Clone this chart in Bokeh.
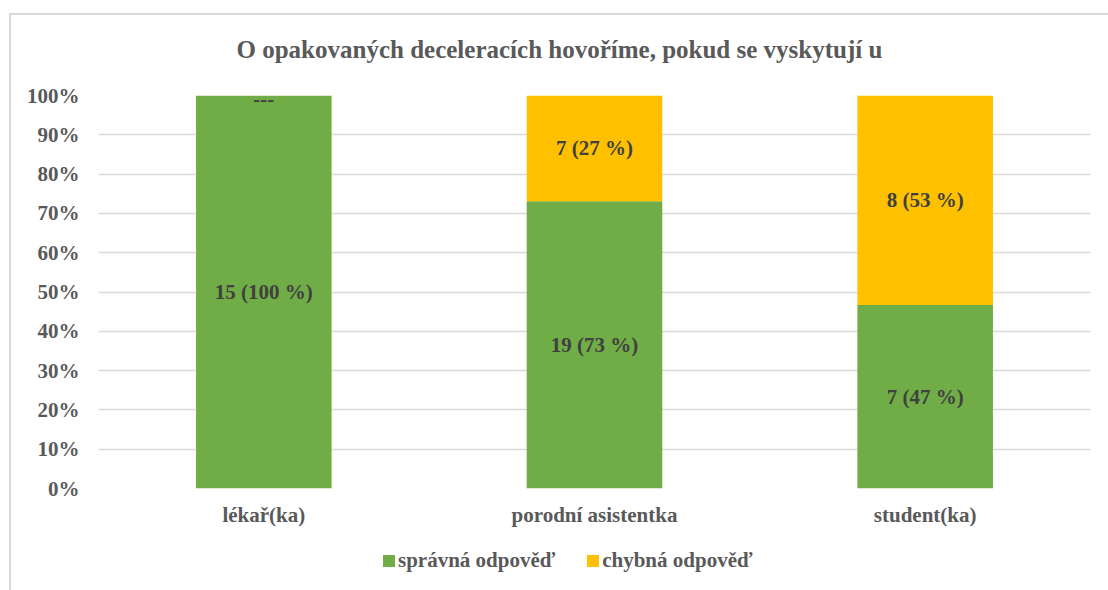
from bokeh.plotting import figure
from bokeh.layouts import column
from bokeh.models import ColumnDataSource, FactorRange, Legend, LegendItem, FixedTicker
from bokeh.core.properties import value
from bokeh.embed import file_html
from bokeh.resources import INLINE

title_text = "O opakovaných  deceleracích hovoříme, pokud  se vyskytují u"
categories = ["lékař(ka)", "porodní asistentka", "student(ka)"]
series_names = ["správná odpověď", "chybná odpověď"]
correct = [15, 19, 7]
wrong = [0, 7, 8]
tick_values = [0.0, 0.1, 0.2, 0.3, 0.4, 0.5, 0.6, 0.7, 0.8, 0.9, 1.0]
tick_labels = ["0%", "10%", "20%", "30%", "40%", "50%", "60%", "70%", "80%", "90%", "100%"]

GREEN = "#70AD47"
YELLOW = "#FFC000"
GRAY = "#595959"
DARK = "#404040"
EDGE = "#d9d9d9"
SERIF = "Liberation Serif"
colors = [GREEN, YELLOW]

totals = [c + w for c, w in zip(correct, wrong)]
frac_c = [c / t for c, t in zip(correct, totals)]
frac_w = [w / t for w, t in zip(wrong, totals)]

src = ColumnDataSource(dict(cat=categories, c=frac_c, w=frac_w))

p = figure(
    x_range=FactorRange(*categories, range_padding=0),
    y_range=(0, 1),
    width=1108, height=537,
    output_backend="svg", toolbar_location=None,
    min_border_left=98, min_border_right=18,
    min_border_top=95, min_border_bottom=49,
)
p.outline_line_color = None
p.background_fill_color = "white"
p.border_fill_alpha = 0

p.title.text = title_text
p.title.text_font = SERIF
p.title.text_font_style = "bold"
p.title.text_font_size = "25px"
p.title.text_color = GRAY
p.title.align = "left"
p.title.offset = 138
p.title.standoff = 65

renderers = p.vbar_stack(["c", "w"], x="cat", width=0.41, source=src,
                         color=colors, line_color=None)

# data labels
lab_x, lab_y, lab_t = [], [], []
zero_x, zero_y, zero_t = [], [], []
for cat, c, w, fc, fw in zip(categories, correct, wrong, frac_c, frac_w):
    lab_x.append(cat)
    lab_y.append(fc / 2)
    lab_t.append(f"{c} ({round(fc * 100)} %)")
    if w == 0:
        zero_x.append(cat)
        zero_y.append(fc + fw / 2)
        zero_t.append("---")
    else:
        lab_x.append(cat)
        lab_y.append(fc + fw / 2)
        lab_t.append(f"{w} ({round(fw * 100)} %)")
lsrc = ColumnDataSource(dict(x=lab_x, y=lab_y, t=lab_t))
p.text(x="x", y="y", text="t", source=lsrc, text_align="center", text_baseline="middle",
       text_font=value(SERIF), text_font_style="bold", text_font_size="21px",
       text_color=DARK)
zsrc = ColumnDataSource(dict(x=zero_x, y=zero_y, t=zero_t))
p.text(x="x", y="y", text="t", source=zsrc, text_align="center", text_baseline="middle",
       text_font=value(SERIF), text_font_style="bold", text_font_size="21px",
       text_color=DARK, y_offset=3)

# axes
p.yaxis.ticker = FixedTicker(ticks=tick_values)
p.yaxis.major_label_overrides = {v: l for v, l in zip(tick_values, tick_labels)}
p.yaxis.axis_line_color = None
p.yaxis.major_tick_line_color = None
p.yaxis.major_tick_out = 0
p.yaxis.major_tick_in = 0
p.yaxis.minor_tick_line_color = None
p.yaxis.major_label_standoff = 19
p.yaxis.major_label_text_font = SERIF
p.yaxis.major_label_text_font_style = "bold"
p.yaxis.major_label_text_font_size = "21px"
p.yaxis.major_label_text_color = GRAY

p.xaxis.axis_line_color = None
p.xaxis.major_tick_line_color = None
p.xaxis.major_tick_out = 0
p.xaxis.major_tick_in = 0
p.xaxis.major_label_standoff = 14
p.xaxis.major_label_text_font = SERIF
p.xaxis.major_label_text_font_style = "bold"
p.xaxis.major_label_text_font_size = "21px"
p.xaxis.major_label_text_color = GRAY

p.xgrid.grid_line_color = None
p.ygrid.grid_line_color = EDGE
p.ygrid.grid_line_width = 1.5

# legend strip (separate small figure under the chart; its bars lie outside its view)
lg = figure(width=1108, height=53, output_backend="svg", toolbar_location=None,
            x_range=FactorRange(*categories), y_range=(5, 6),
            x_axis_type=None, y_axis_type=None, min_border=0)
lg.outline_line_color = None
lg.grid.grid_line_color = None
lg.border_fill_alpha = 0
lg.background_fill_alpha = 0
proxies = lg.vbar_stack(["c", "w"], x="cat", width=0.41, source=src,
                        color=colors, line_color=None)
legend = Legend(items=[LegendItem(label=n, renderers=[r]) for n, r in zip(series_names, proxies)],
                orientation="horizontal", location=(283, 17))
legend.label_text_font = SERIF
legend.label_text_font_style = "bold"
legend.label_text_font_size = "21px"
legend.label_text_color = GRAY
legend.glyph_width = 15
legend.glyph_height = 15
legend.label_standoff = 2
legend.spacing = 30
legend.border_line_color = None
legend.background_fill_alpha = 0
legend.margin = 0
legend.padding = 0
lg.add_layout(legend)

layout = column(p, lg, spacing=0)
layout.styles = {
    "background": (f"linear-gradient({EDGE},{EDGE}) 9px 13px / 3000px 2px no-repeat, "
                   f"linear-gradient({EDGE},{EDGE}) 9px 13px / 2px 3000px no-repeat, white"),
}

open("out.html", "w").write(file_html(layout, INLINE))
